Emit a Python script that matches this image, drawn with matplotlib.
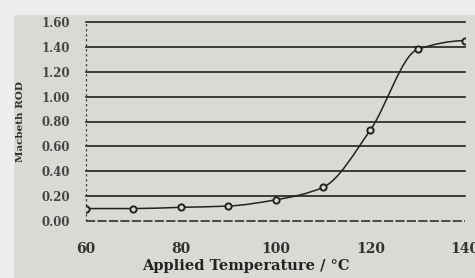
import numpy as np
import matplotlib.pyplot as plt
from matplotlib.path import Path
from matplotlib.patches import PathPatch, Rectangle

temps = [60, 70, 80, 90, 100, 110, 120, 130, 140]
rod = [0.10, 0.10, 0.11, 0.12, 0.17, 0.27, 0.73, 1.38, 1.45]
yticks = [0.0, 0.2, 0.4, 0.6, 0.8, 1.0, 1.2, 1.4, 1.6]
xticks = [60, 80, 100, 120, 140]

plt.rcParams['font.family'] = ['DejaVu Serif']

fig = plt.figure(figsize=(4.75, 2.78), dpi=100, facecolor='#d9d9d5')
# lighter paper border of the photo
fig.patches.append(Rectangle((0, 0), 13 / 475, 1, transform=fig.transFigure,
                             color='#ededeb', zorder=-5))
fig.patches.append(Rectangle((0, 1 - 14 / 278), 1, 14 / 278, transform=fig.transFigure,
                             color='#ededeb', zorder=-5))

ax = fig.add_axes([86 / 475, 1 - 221 / 278, (465 - 86) / 475, (221 - 22) / 278])
ax.set_facecolor('none')
ax.set_xlim(60, 140)
ax.set_ylim(0, 1.6)
for s in ax.spines.values():
    s.set_visible(False)
ax.axvline(60, color='#444444', lw=0.9, ls=(0, (2, 2)), clip_on=False)

for v in yticks:
    ax.axhline(v, color='#222222', lw=1.2 if v > 0 else 1.1,
               ls='-' if v > 0 else (0, (6, 1.5)), zorder=1, clip_on=False)

# smooth curve through the points drawn as bezier segments
x = np.array(temps, float)
y = np.array(rod, float)
d = np.diff(y) / np.diff(x)
m = np.zeros_like(y)
m[0], m[-1] = d[0], 0.0
for i in range(1, len(x) - 1):
    m[i] = 0 if d[i - 1] * d[i] <= 0 else 2 / (1 / d[i - 1] + 1 / d[i])
verts = [(x[0], y[0])]
codes = [Path.MOVETO]
for i in range(len(x) - 1):
    h = (x[i + 1] - x[i]) / 3
    verts += [(x[i] + h, y[i] + m[i] * h), (x[i + 1] - h, y[i + 1] - m[i + 1] * h),
              (x[i + 1], y[i + 1])]
    codes += [Path.CURVE4] * 3
ax.add_patch(PathPatch(Path(verts, codes), fill=False, ec='#222222', lw=1.1, zorder=2))
ax.plot(temps, rod, ls='none', marker='o', ms=4.5, mfc='#d9d9d5', mec='#222222',
        mew=1.4, zorder=3)

ax.set_yticks(yticks)
ax.set_yticklabels([f'{v:.2f}' for v in yticks], fontsize=8.5, fontweight='bold',
                   color='#444444')
ax.set_xticks(xticks)
ax.set_xticklabels([str(v) for v in xticks], fontsize=10, fontweight='bold',
                   color='#333333')
ax.tick_params(axis='y', length=0, pad=11.5)
ax.tick_params(axis='x', length=0, pad=15)
ax.set_xlabel('Applied Temperature / °C', fontsize=10.5, fontweight='bold',
              color='#222222')
ax.xaxis.set_label_coords(0.422, -0.19)
ax.set_ylabel('Macbeth ROD', fontsize=7.5, fontweight='bold', color='#333333')
ax.yaxis.set_label_coords(-0.16, 0.5)

fig.savefig('out.png', dpi=100, facecolor=fig.get_facecolor())
